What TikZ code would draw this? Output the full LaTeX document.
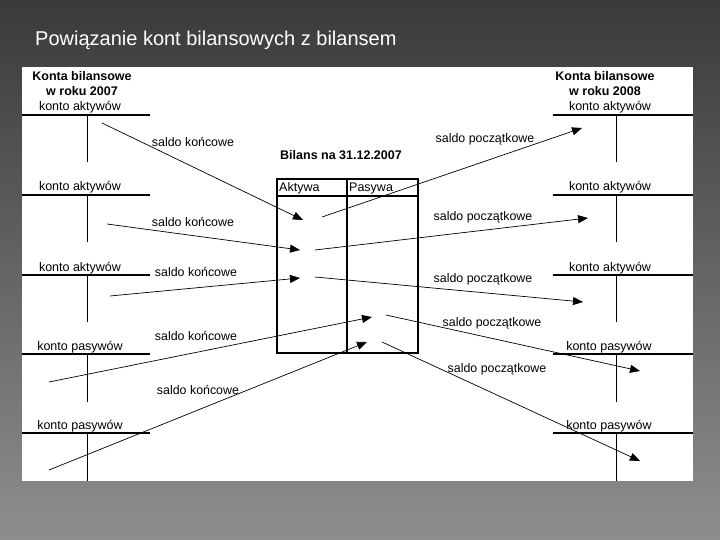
\documentclass[tikz,border=0pt]{standalone}
\usepackage{fontspec}
\setmainfont{Liberation Sans}
\usetikzlibrary{positioning,arrows.meta}
\definecolor{slidetop}{RGB}{58,58,58}
\definecolor{slidebottom}{RGB}{142,142,142}

\begin{document}
\begin{tikzpicture}[
    x=1pt, y=-1pt,
    konto/.style={font=\fontsize{12.5}{14}\selectfont, inner sep=1pt, anchor=base},
    group/.style={font=\bfseries\fontsize{12.5}{15}\selectfont, align=center, inner sep=0pt},
    saldo/.style={font=\fontsize{12.4}{14}\selectfont, inner sep=1pt},
    tbar/.style={line width=1.4pt},
    tleg/.style={line width=1pt},
    frame/.style={line width=1.8pt},
    flow/.style={-{Triangle[length=10pt,width=8pt]}, line width=0.7pt}
]
\useasboundingbox (0,0) rectangle (720,540);
\shade[top color=slidetop, bottom color=slidebottom] (0,0) rectangle (720,540);
\fill[white] (22,67) rectangle (693,481);

\node[anchor=base west, text=white, font=\fontsize{20}{22}\selectfont, inner sep=0pt] (title) at (35,46) {Powiązanie kont bilansowych z bilansem};

% accounts 2007
\node[group] (rok07) at (82,84) {Konta bilansowe\\w roku 2007};
\node[konto] (la1) at (80,111) {konto aktywów};
\node[konto] (la2) at (80,191) {konto aktywów};
\node[konto] (la3) at (80,271) {konto aktywów};
\node[konto] (lp1) at (80,350) {konto pasywów};
\node[konto] (lp2) at (80,429) {konto pasywów};
\draw[tbar] (22,115) -- (150,115);
\draw[tbar] (22,195) -- (150,195);
\draw[tbar] (22,275) -- (150,275);
\draw[tbar] (22,354) -- (150,354);
\draw[tbar] (22,433) -- (150,433);
\draw[tleg] (87,115) -- (87,162);
\draw[tleg] (87,195) -- (87,242);
\draw[tleg] (87,275) -- (87,322);
\draw[tleg] (87,354) -- (87,402);
\draw[tleg] (87,433) -- (87,481);

% accounts 2008
\node[group] (rok08) at (605,84) {Konta bilansowe\\w roku 2008};
\node[konto] (ra1) at (610,111) {konto aktywów};
\node[konto] (ra2) at (610,191) {konto aktywów};
\node[konto] (ra3) at (610,271) {konto aktywów};
\node[konto] (rp1) at (609,350) {konto pasywów};
\node[konto] (rp2) at (609,429) {konto pasywów};
\draw[tbar] (553,115) -- (693,115);
\draw[tbar] (553,195) -- (693,195);
\draw[tbar] (553,275) -- (693,275);
\draw[tbar] (553,354) -- (693,354);
\draw[tbar] (553,433) -- (693,433);
\draw[tleg] (616,115) -- (616,162);
\draw[tleg] (616,195) -- (616,242);
\draw[tleg] (616,275) -- (616,322);
\draw[tleg] (616,354) -- (616,402);
\draw[tleg] (616,433) -- (616,481);

% balance sheet
\node[group] (bilans) at (341,155) {Bilans na 31.12.2007};
\draw[frame] (277,179) rectangle (418,353);
\draw[frame] (277,196) -- (418,196);
\draw[frame] (347,179) -- (347,353);
\node[konto, anchor=base west] (aktywa) at (278,191.5) {Aktywa};
\node[konto, anchor=base west] (pasywa) at (348,191.5) {Pasywa};

% arrow ends
\coordinate (k1) at (102,123);  \coordinate (a1) at (303,220);
\coordinate (k2) at (107,224);  \coordinate (a2) at (300,250);
\coordinate (k3) at (110,296);  \coordinate (a3) at (300,278);
\coordinate (k4) at (49,382);   \coordinate (a4) at (372,317);
\coordinate (k5) at (49,470);   \coordinate (a5) at (367,342);
\coordinate (b1) at (322,217);  \coordinate (o1) at (582,128);
\coordinate (b2) at (315,250);  \coordinate (o2) at (588,218);
\coordinate (b3) at (315,277);  \coordinate (o3) at (583,302);
\coordinate (b4) at (386,315);  \coordinate (o4) at (640,371);
\coordinate (b5) at (382,342);  \coordinate (o5) at (640,461);

\draw[flow] (k1) -- (a1);
\draw[flow] (k2) -- (a2);
\draw[flow] (k3) -- (a3);
\draw[flow] (k4) -- (a4);
\draw[flow] (k5) -- (a5);
\draw[flow] (b1) -- (o1);
\draw[flow] (b2) -- (o2);
\draw[flow] (b3) -- (o3);
\draw[flow] (b4) -- (o4);
\draw[flow] (b5) -- (o5);

\node[saldo] (sk1) at (193,142) {saldo końcowe};
\node[saldo] (sk2) at (193,222) {saldo końcowe};
\node[saldo] (sk3) at (196,272) {saldo końcowe};
\node[saldo] (sk4) at (196,336) {saldo końcowe};
\node[saldo] (sk5) at (198,390) {saldo końcowe};
\node[saldo] (sp1) at (485,139) {saldo początkowe};
\node[saldo] (sp2) at (483,217) {saldo początkowe};
\node[saldo] (sp3) at (483,279) {saldo początkowe};
\node[saldo] (sp4) at (492,323) {saldo początkowe};
\node[saldo] (sp5) at (497,369) {saldo początkowe};

\end{tikzpicture}
\end{document}
